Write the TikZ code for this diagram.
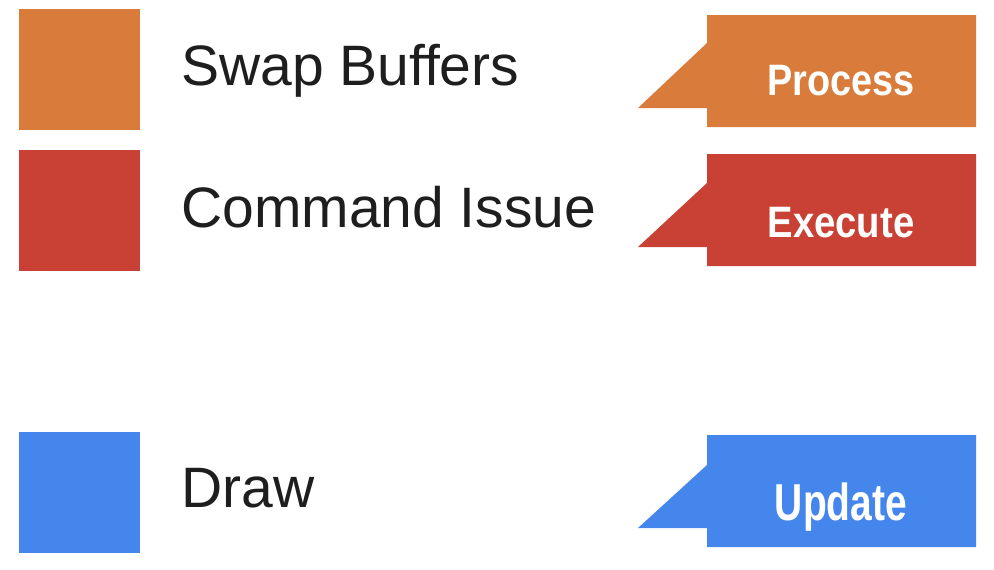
\documentclass[tikz,border=0pt]{standalone}
\usepackage{fontspec}
\setmainfont{Liberation Sans}
\definecolor{cOrange}{HTML}{D97B3A}
\definecolor{cRed}{HTML}{C94034}
\definecolor{cBlue}{HTML}{4486EC}
\definecolor{cText}{HTML}{1E1E1E}
\begin{document}
\begin{tikzpicture}[x=1pt,y=-1pt,
  sq/.style={draw=none,minimum width=121pt,minimum height=121pt,inner sep=0pt},
  lbl/.style={anchor=base west,inner sep=0pt,text=cText,font=\fontsize{57}{62}\selectfont},
  tagtext/.style={anchor=base,inner sep=0pt,text=white,font=\bfseries\fontsize{44}{48}\selectfont}]
\useasboundingbox[fill=white] (0,0) rectangle (994,570);
% legend squares
\node[sq,fill=cOrange] (sqA) at (79.5,69) {};
\node[sq,fill=cRed] (sqB) at (79.5,210) {};
\node[sq,fill=cBlue] (sqC) at (79.5,492) {};
% labels
\node[lbl] (lA) at (181,85) {Swap Buffers};
\node[lbl] (lB) at (181,227) {Command Issue};
\node[lbl] (lC) at (181,507) {Draw};
% tags
\fill[cOrange] (707,15) -- (976,15) -- (976,127) -- (707,127) -- (707,108) -- (638,108) -- (707,43) -- cycle;
\fill[cRed] (707,154) -- (976,154) -- (976,266) -- (707,266) -- (707,247) -- (638,247) -- (707,183) -- cycle;
\fill[cBlue] (707,435) -- (976,435) -- (976,547) -- (707,547) -- (707,528) -- (638,528) -- (707,465) -- cycle;
\node[tagtext] (tA) at (841,95) {\scalebox{0.86}[1]{Process}};
\node[tagtext] (tB) at (841,237) {\scalebox{0.87}[1]{Execute}};
\node[tagtext,font=\bfseries\fontsize{52}{56}\selectfont] (tC) at (841,520) {\scalebox{0.75}[1]{Update}};
\end{tikzpicture}
\end{document}
